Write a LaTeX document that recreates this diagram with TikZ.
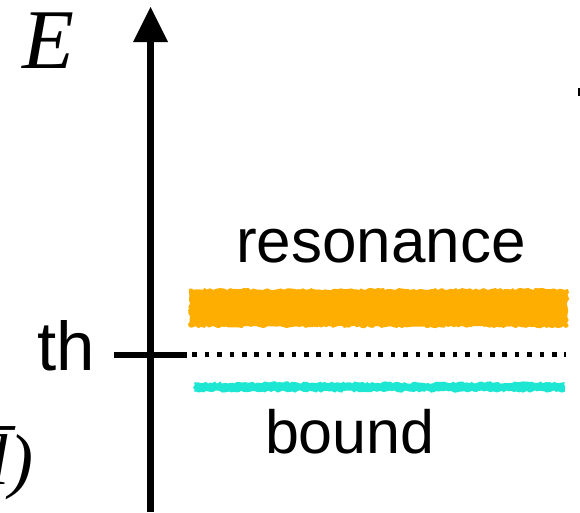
\documentclass[tikz,border=0pt]{standalone}
\usepackage{fontspec}
\setmainfont{Liberation Serif}
\setsansfont{Liberation Sans}
\usetikzlibrary{decorations.pathmorphing}
\definecolor{bandorange}{HTML}{FDAE00}
\definecolor{bandcyan}{HTML}{1DE6D2}
\begin{document}
\begin{tikzpicture}[x=1pt,y=-1pt,
  lbl/.style={inner sep=0pt,outer sep=0pt,anchor=base west,font=\sffamily\fontsize{61}{61}\selectfont},
  axisline/.style={line width=7pt},
  rough/.style={decorate,decoration={random steps,segment length=2.5pt,amplitude=1.2pt}},
]
\useasboundingbox (0,0) rectangle (580,512);
\clip (0,0) rectangle (580,512);
% axis
\coordinate (axbot) at (150.5,512);
\coordinate (axtop) at (150.5,40);
\draw[axisline] (axbot) -- (axtop);
\fill (133,42) -- (168,42) -- (150.5,7) -- cycle;
% th tick
\coordinate (tl) at (114,354.5);
\coordinate (tr) at (187,354.5);
\draw[line width=6pt] (tl) -- (tr);
% bands
\fill[bandorange,rough] (189,289) rectangle (568,327);
\fill[bandorange] (192,292) rectangle (565,324);
\fill[bandcyan,rough] (194,382.5) rectangle (565,391.5);
\fill[bandcyan] (195,384) rectangle (564,390);
% dotted threshold line
\coordinate (dl) at (180,354.5);
\coordinate (dr) at (566,354.5);
\draw[line width=4.5pt,dash pattern=on 4.5pt off 7.9pt] (dl) -- (dr);
% labels
\node[inner sep=0pt,anchor=base west,font=\itshape\fontsize{85}{85}\selectfont] (E) at (22,68) {E};
\node[lbl,font=\sffamily\fontsize{69}{69}\selectfont] (th) at (37,370) {th};
\node[lbl,font=\sffamily\fontsize{62}{62}\selectfont] (res) at (236,262) {resonance};
\node[lbl] (bd) at (265,453) {bound};
\node[inner sep=0pt,anchor=base east,font=\itshape\fontsize{72}{72}\selectfont] (lb) at (34,484) {\={l})};
% fragment at right edge
\fill (578,88) rectangle (581,96);
\end{tikzpicture}
\end{document}
